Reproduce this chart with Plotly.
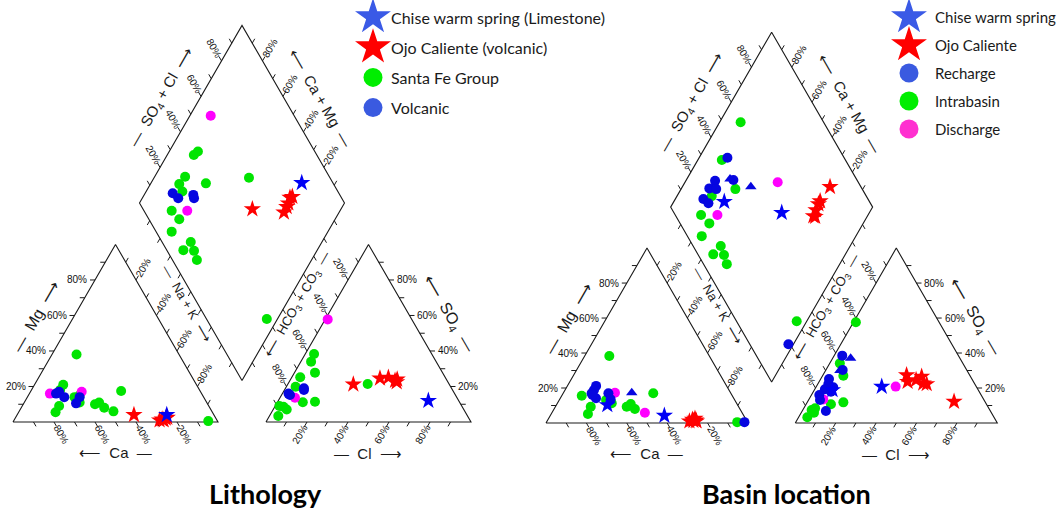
import numpy as np
import plotly.graph_objects as go

# ======================= DATA (percent of meq) =======================
# ---- Panel 1 : Lithology ----
# cation triangle : Mg and Na+K (Ca = remainder)
L_cat_sf_mg   = [38, 21, 18, 9, 5.5, 15, 11, 14, 10, 11, 8, 6, 17.5, 0.5]
L_cat_sf_nak  = [12, 14, 14, 18, 18, 25, 27, 23, 35, 36.5, 40.5, 46, 44, 95]
L_cat_vo_mg   = [17, 16, 14, 14, 10.5]
L_cat_vo_nak  = [14, 13, 18, 25.5, 25.5]
L_cat_mag_mg  = [16, 17]
L_cat_mag_nak = [10, 25]
L_cat_ojo_mg  = [4, 1.5, 2, 1, 2.5, 1]
L_cat_ojo_nak = [57, 72, 73.5, 71, 74, 73]
L_cat_chi_mg  = [4]
L_cat_chi_nak = [73]
# anion triangle : SO4 and Cl (HCO3 = remainder)
L_an_sf_so4   = [38.3, 34, 27.8, 25.2, 19.9, 11.1, 11.4, 8.6, 7, 3.4, 9, 21.4]
L_an_sf_cl    = [4.3, 5, 10, 4.1, 4.5, 12.4, 18.2, 4.2, 6.6, 4.3, 2, 38.9]
L_an_vo_so4   = [18, 19, 15.2, 16]
L_an_vo_cl    = [9.5, 9, 4.1, 3]
L_an_mag_so4  = [57.8, 13.7]
L_an_mag_cl   = [1.2, 7.3]
L_an_ojo_so4  = [21.2, 24.6, 25, 23.3, 22.5, 24]
L_an_ojo_cl   = [32, 43.3, 47.2, 51.3, 52.5, 52]
L_an_chi_so4  = [12]
L_an_chi_cl   = [73.2]
# diamond : SO4+Cl and Ca+Mg
L_dia_sf_so4cl  = [40, 43, 29.6, 24.7, 24.1, 37.9, 13.5, 14.8, 7.6, 14, 8.1, 13.1, 11.9, 60.5, 29.4]
L_dia_sf_camg   = [87, 86, 85.1, 85.9, 82.3, 73.1, 82.1, 76, 76.2, 64, 65.3, 59.9, 55.9, 53.7, 5.2]
L_dia_vo_so4cl  = [18.9, 20.2, 27.9, 28.5]
L_dia_vo_camg   = [86.5, 82.4, 74.7, 76]
L_dia_mag_so4cl = [59.3, 21.1]
L_dia_mag_camg  = [89.8, 74.5]
L_dia_ojo_so4cl = [53.3, 74.9, 72.5, 70.7, 67.8, 76.3]
L_dia_ojo_camg  = [43.2, 28.1, 27.3, 27.1, 26.9, 27.2]
L_dia_chi_so4cl = [84.8]
L_dia_chi_camg  = [26.5]

# ---- Panel 2 : Basin location ----
R_cat_in_mg   = [38.3, 15.6, 9.3, 5.1, 13.1, 11.3, 9.3, 10.9, 8, 17, 0.5]
R_cat_in_nak  = [12.2, 9.9, 17.5, 18.2, 23.2, 26.9, 35.3, 36.5, 40, 44.6, 94.4]
R_cat_re_mg   = [21.2, 18.9, 17, 14.1, 16, 17, 13.6, 0.5]
R_cat_re_nak  = [14.2, 14.3, 14.1, 17.7, 15, 22.4, 25.2, 98]
R_cat_tri_mg  = [17.3]
R_cat_tri_nak = [33.8]
R_cat_di_mg   = [17.3, 5.9]
R_cat_di_nak  = [25.5, 46]
R_cat_ojo_mg  = [1.3, 1, 2, 1.5, 2.5, 1]
R_cat_ojo_nak = [72.3, 70.5, 71.5, 73.5, 72.5, 74]
R_cat_chi_mg  = [10.3, 4.2]
R_cat_chi_nak = [25.2, 56.5]

R_an_in_so4   = [57.6, 34.1, 27, 10.7, 11.8, 7.4, 8.4, 5.9, 3.3]
R_an_in_cl    = [1.2, 5, 10.3, 12.3, 17.9, 4.4, 5.6, 6.3, 4.3]
R_an_re_so4   = [38.5, 30.3, 25.2, 22.3, 19.3, 20.4, 17.9, 16, 13.1, 6.9]
R_an_re_cl    = [4, 8.3, 4.1, 5.2, 5, 8.6, 8.7, 3.9, 5.7, 11.7]
R_an_tri_so4  = [37, 30]
R_an_tri_cl   = [8.9, 7.1]
R_an_di_so4   = [13.5, 20.8]
R_an_di_cl    = [7.1, 39.3]
R_an_ojo_so4  = [27.4, 23.6, 24.6, 26.5, 22.7, 22.3, 12.2]
R_an_ojo_cl   = [41.4, 43.8, 47.5, 49.3, 52, 53.9, 72.5]
R_an_chi_so4  = [18.9, 20.8]
R_an_chi_cl   = [9, 32.4]

R_dia_in_so4cl  = [58.9, 38.8, 37.2, 23.5, 12.8, 14.5, 7.1, 13.7, 7.6, 12.7, 11.5, 29.8]
R_dia_in_camg   = [89.6, 88.1, 73.1, 82.8, 82.7, 76.2, 76.3, 64.1, 65.4, 59.9, 55.9, 5]
R_dia_re_so4cl  = [42.2, 38.8, 29.5, 24.5, 27.7, 18.5, 19.8, 19.1]
R_dia_re_camg   = [86, 76.7, 85.5, 86.2, 82.6, 86.1, 82.4, 2.5]
R_dia_tri_so4cl = [37.4, 45.5]
R_dia_tri_camg  = [78.6, 66.1]
R_dia_di_so4cl  = [20.9, 60.1]
R_dia_di_camg   = [74.6, 54.1]
R_dia_ojo_so4cl = [84.7, 75.7, 74, 71.1, 68.1, 68.8]
R_dia_ojo_camg  = [26.9, 27.7, 27.7, 27.2, 26.8, 25.7]
R_dia_chi_so4cl = [28.1, 53.4]
R_dia_chi_camg  = [75, 43.4]

tick_values = [10, 20, 30, 40, 50, 60, 70, 80, 90]
label_values = [20, 40, 60, 80]
tick_text = ["20%", "40%", "60%", "80%"]

legend1_names = ["Chise warm spring (Limestone)", "Ojo Caliente (volcanic)", "Santa Fe Group", "Volcanic"]
legend2_names = ["Chise warm spring", "Ojo Caliente", "Recharge", "Intrabasin", "Discharge"]
panel_titles = ["Lithology", "Basin location"]

# ======================= STYLE / GEOMETRY =======================
W, HP = 1063, 511
GAP = 0.2341
H = np.sqrt(3) / 2
GREEN, BLUE, MAG, RED, BSTAR = "#00e400", "#0606e0", "#ff00ff", "#ff0000", "#0000f5"
LG_BLUE, LG_GREEN, LG_MAG, LG_STARB = "#3a5ae0", "#00ee00", "#ff30d0", "#3a5ae6"
FONT = "Liberation Sans, Arial, sans-serif"


def cat_xy(mg, nak):
    mg = np.asarray(mg, float) / 100
    nak = np.asarray(nak, float) / 100
    return nak + mg / 2, H * mg


def an_xy(so4, cl):
    so4 = np.asarray(so4, float) / 100
    cl = np.asarray(cl, float) / 100
    return 1 + GAP + cl + so4 / 2, H * so4


def dia_xy(so4cl, camg):
    s = np.asarray(so4cl, float) / 100
    c = np.asarray(camg, float) / 100
    return 1 + GAP / 2 + (s - c) / 2, GAP * H + H * (s + c)


# edges: function t(0..1) -> point, outward unit vector
EDGES = {
    "Mg":   (lambda t: (t / 2, H * t), (-1.0, 0.0)),
    "Ca":   (lambda t: (1 - t, 0.0), (0.5, -H)),
    "NaK":  (lambda t: (t + (1 - t) / 2, H * (1 - t)), (0.5, H)),
    "HCO3": (lambda t: (1 + GAP + (1 - t) / 2, H * (1 - t)), (-0.5, H)),
    "Cl":   (lambda t: (1 + GAP + t, 0.0), (-0.5, -H)),
    "SO4":  (lambda t: (2 + GAP - t / 2, H * t), (1.0, 0.0)),
    "SO4Cl": (lambda t: tuple(float(v) for v in dia_xy(100 * t, 100)), (-0.5, H)),
    "CaMg": (lambda t: tuple(float(v) for v in dia_xy(100, 100 * t)), (0.5, H)),
    "DLL":  (lambda t: tuple(float(v) for v in dia_xy(0, 100 * t)), (-0.5, -H)),
    "DLR":  (lambda t: tuple(float(v) for v in dia_xy(100 * t, 0)), (0.5, -H)),
}
LABELLED = {"Mg": 0, "Ca": 60, "NaK": -60, "HCO3": 60, "Cl": -60, "SO4": 0,
            "SO4Cl": 60, "CaMg": -60}

# axis titles: (text, unit position, angle, font size)
AXIS_TITLES = [
    ("—  Mg  ⟶", (0.112, 0.517), -60, 16),
    ("⟵  Ca  —", (0.498, -0.151), 0, 15),
    ("—  Na + K  ⟶", (0.849, 0.580), 60, 13),
    ("—  Cl  ⟶", (1.732, -0.156), 0, 15),
    ("⟵  SO<sub>4</sub>  —", (2.122, 0.527), 60, 16),
    ("⟵  HCO<sub>3</sub> + CO<sub>3</sub>  —", (1.390, 0.571), -60, 13),
    ("—  SO<sub>4</sub> + Cl  ⟶", (0.722, 1.585), -60, 15),
    ("⟵  Ca + Mg  —", (1.502, 1.580), 60, 15),
]

fig = go.Figure()
annotations = []


def add_panel(xa, ya, S, groups):
    # frame
    B = dia_xy(0, 0)
    Rr = dia_xy(100, 0)
    T = dia_xy(100, 100)
    Lf = dia_xy(0, 100)
    fx = [0, 1, 0.5, 0, None, 1 + GAP, 2 + GAP, 1.5 + GAP, 1 + GAP, None,
          float(B[0]), float(Rr[0]), float(T[0]), float(Lf[0]), float(B[0])]
    fy = [0, 0, H, 0, None, 0, 0, H, 0, None,
          float(B[1]), float(Rr[1]), float(T[1]), float(Lf[1]), float(B[1])]
    fig.add_trace(go.Scatter(x=fx, y=fy, mode="lines", xaxis=xa, yaxis=ya,
                             line=dict(color="#1a1a1a", width=1.1),
                             hoverinfo="skip", showlegend=False))
    # ticks
    tl = 5.0 / S
    tx, ty = [], []
    for name, (f, d) in EDGES.items():
        for v in tick_values:
            px, py = f(v / 100)
            tx += [px, px + d[0] * tl, None]
            ty += [py, py + d[1] * tl, None]
    fig.add_trace(go.Scatter(x=tx, y=ty, mode="lines", xaxis=xa, yaxis=ya,
                             line=dict(color="#1a1a1a", width=1),
                             hoverinfo="skip", showlegend=False))
    # tick labels
    for name, ang in LABELLED.items():
        f, d = EDGES[name]
        for v, txt in zip(label_values, tick_text):
            px, py = f(v / 100)
            if ang == 0:
                dist = 6.0 / S
                annotations.append(dict(
                    x=px + d[0] * dist, y=py + d[1] * dist, xref=xa, yref=ya,
                    text=txt, showarrow=False,
                    xanchor="right" if d[0] < 0 else "left", yanchor="middle",
                    font=dict(family=FONT, size=10, color="#111111")))
            else:
                dist = 14.5 / S
                annotations.append(dict(
                    x=px + d[0] * dist, y=py + d[1] * dist, xref=xa, yref=ya,
                    text=txt, showarrow=False, textangle=ang,
                    xanchor="center", yanchor="middle",
                    font=dict(family=FONT, size=10, color="#111111")))
    for txt, (ux, uy), ang, fs in AXIS_TITLES:
        annotations.append(dict(x=ux, y=uy, xref=xa, yref=ya, text=txt,
                                showarrow=False, textangle=ang,
                                xanchor="center", yanchor="middle",
                                font=dict(family=FONT, size=fs, color="#1a1a1a")))
    # data
    for (cmg, cnak, aso4, acl, dsc, dcm, sym, col, size) in groups:
        x1, y1 = cat_xy(cmg, cnak)
        x2, y2 = an_xy(aso4, acl)
        x3, y3 = dia_xy(dsc, dcm)
        fig.add_trace(go.Scatter(
            x=np.concatenate([x1, x2, x3]), y=np.concatenate([y1, y2, y3]),
            mode="markers", xaxis=xa, yaxis=ya, showlegend=False,
            marker=dict(symbol=sym, color=col, size=size, opacity=1, line=dict(width=0))))


groups_left = [
    (L_cat_sf_mg, L_cat_sf_nak, L_an_sf_so4, L_an_sf_cl, L_dia_sf_so4cl, L_dia_sf_camg, "circle", GREEN, 10),
    (L_cat_mag_mg, L_cat_mag_nak, L_an_mag_so4, L_an_mag_cl, L_dia_mag_so4cl, L_dia_mag_camg, "circle", MAG, 10),
    (L_cat_vo_mg, L_cat_vo_nak, L_an_vo_so4, L_an_vo_cl, L_dia_vo_so4cl, L_dia_vo_camg, "circle", BLUE, 10),
    (L_cat_ojo_mg, L_cat_ojo_nak, L_an_ojo_so4, L_an_ojo_cl, L_dia_ojo_so4cl, L_dia_ojo_camg, "star", RED, 13),
    (L_cat_chi_mg, L_cat_chi_nak, L_an_chi_so4, L_an_chi_cl, L_dia_chi_so4cl, L_dia_chi_camg, "star", BSTAR, 13),
]
groups_right = [
    (R_cat_in_mg, R_cat_in_nak, R_an_in_so4, R_an_in_cl, R_dia_in_so4cl, R_dia_in_camg, "circle", GREEN, 10),
    (R_cat_di_mg, R_cat_di_nak, R_an_di_so4, R_an_di_cl, R_dia_di_so4cl, R_dia_di_camg, "circle", MAG, 10),
    (R_cat_re_mg, R_cat_re_nak, R_an_re_so4, R_an_re_cl, R_dia_re_so4cl, R_dia_re_camg, "circle", BLUE, 10),
    (R_cat_tri_mg, R_cat_tri_nak, R_an_tri_so4, R_an_tri_cl, R_dia_tri_so4cl, R_dia_tri_camg, "triangle-up", BLUE, 10),
    (R_cat_ojo_mg, R_cat_ojo_nak, R_an_ojo_so4, R_an_ojo_cl, R_dia_ojo_so4cl, R_dia_ojo_camg, "star", RED, 13),
    (R_cat_chi_mg, R_cat_chi_nak, R_an_chi_so4, R_an_chi_cl, R_dia_chi_so4cl, R_dia_chi_camg, "star", BSTAR, 13),
]

S_L, OX_L, OY_L = 205.0, 13.0, 422.0
S_R, OX_R, OY_R = 202.0, 546.0, 423.0

add_panel("x", "y", S_L, groups_left)
add_panel("x2", "y2", S_R, groups_right)

# ---------------- legends (pixel axes x3/y3) ----------------
leg1_sym = ["star", "star", "circle", "circle"]
leg1_col = [LG_STARB, RED, LG_GREEN, LG_BLUE]
leg2_sym = ["star", "star", "circle", "circle", "circle"]
leg2_col = [LG_STARB, RED, LG_BLUE, LG_GREEN, LG_MAG]
leg1_x, leg1_y0, leg1_dy = 373, 17, 30.2
leg2_x, leg2_y0, leg2_dy = 909, 17, 28.0

lx, ly, ls, lc, lsz = [], [], [], [], []
for i, (s, c) in enumerate(zip(leg1_sym, leg1_col)):
    lx.append(leg1_x); ly.append(leg1_y0 + i * leg1_dy); ls.append(s); lc.append(c)
    lsz.append(27 if s == "star" else 19)
    annotations.append(dict(x=leg1_x + 16, y=leg1_y0 + i * leg1_dy, xref="x3", yref="y3",
                            text=legend1_names[i], showarrow=False, xanchor="left",
                            yanchor="middle", font=dict(family="Lato, sans-serif", size=16, color="#1a1a1a")))
for i, (s, c) in enumerate(zip(leg2_sym, leg2_col)):
    lx.append(leg2_x); ly.append(leg2_y0 + i * leg2_dy); ls.append(s); lc.append(c)
    lsz.append(27 if s == "star" else 19)
    annotations.append(dict(x=leg2_x + 24, y=leg2_y0 + i * leg2_dy, xref="x3", yref="y3",
                            text=legend2_names[i], showarrow=False, xanchor="left",
                            yanchor="middle", font=dict(family="Lato, sans-serif", size=15, color="#1a1a1a")))
fig.add_trace(go.Scatter(x=lx, y=ly, mode="markers", xaxis="x3", yaxis="y3", showlegend=False,
                         hoverinfo="skip",
                         marker=dict(symbol=ls, color=lc, size=lsz, opacity=1, line=dict(width=0))))

# panel titles
for cx, t in zip([265, 786], panel_titles):
    annotations.append(dict(x=cx, y=493, xref="x3", yref="y3", text="<b>%s</b>" % t,
                            showarrow=False, xanchor="center", yanchor="middle",
                            font=dict(family="Lato, sans-serif", size=27, color="#000000")))

ax_common = dict(visible=False, showgrid=False, zeroline=False, fixedrange=True, domain=[0, 1])
fig.update_layout(
    width=W, height=HP, margin=dict(l=0, r=0, t=0, b=0),
    paper_bgcolor="white", plot_bgcolor="rgba(0,0,0,0)", showlegend=False,
    xaxis=dict(range=[-OX_L / S_L, (W - OX_L) / S_L], **ax_common),
    yaxis=dict(range=[(OY_L - HP) / S_L, OY_L / S_L], **ax_common),
    xaxis2=dict(range=[-OX_R / S_R, (W - OX_R) / S_R], overlaying="x", anchor="y2", **ax_common),
    yaxis2=dict(range=[(OY_R - HP) / S_R, OY_R / S_R], overlaying="y", anchor="x2", **ax_common),
    xaxis3=dict(range=[0, W], overlaying="x", anchor="y3", **ax_common),
    yaxis3=dict(range=[HP, 0], overlaying="y", anchor="x3", **ax_common),
    annotations=annotations,
)
fig.write_html("out.html")
